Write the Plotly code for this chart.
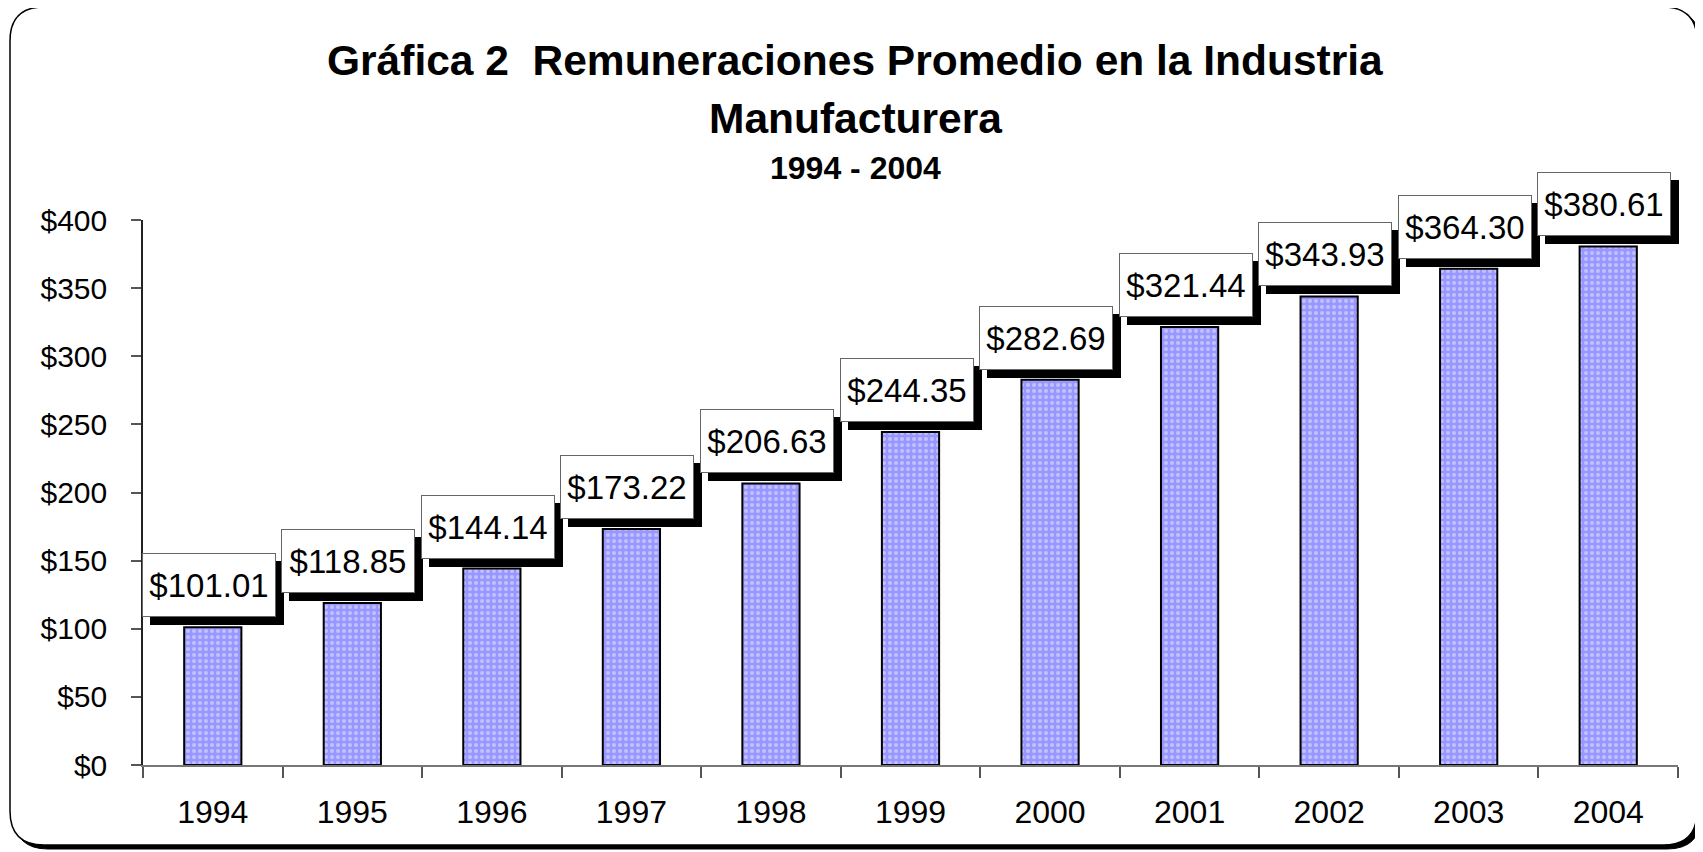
import plotly.graph_objects as go

years = ["1994", "1995", "1996", "1997", "1998", "1999", "2000", "2001", "2002", "2003", "2004"]
values = [101.01, 118.85, 144.14, 173.22, 206.63, 244.35, 282.69, 321.44, 343.93, 364.30, 380.61]
y_ticks = [0, 50, 100, 150, 200, 250, 300, 350, 400]
y_tick_labels = ["$0", "$50", "$100", "$150", "$200", "$250", "$300", "$350", "$400"]

title_line1 = "Gráfica 2\u00a0\u00a0Remuneraciones Promedio en la Industria"
title_line2 = "Manufacturera"
title_line3 = "1994 - 2004"

# page body has an 8px margin; work in page pixels and subtract it
OFF = 8
FW, FH = 1703 - OFF, 852 - OFF
L, R, T, B = 143 - OFF, 1678 - OFF, 220 - OFF, 765 - OFF
PW, PH = R - L, B - T


def px(x):
    return (x - OFF - L) / PW


def py(y):
    return (B - (y - OFF)) / PH


def rrect(x0, y0, x1, y1, r):
    pts = [
        f"M {px(x0 + r)},{py(y0)}",
        f"L {px(x1 - r)},{py(y0)}",
        f"Q {px(x1)},{py(y0)} {px(x1)},{py(y0 + r)}",
        f"L {px(x1)},{py(y1 - r)}",
        f"Q {px(x1)},{py(y1)} {px(x1 - r)},{py(y1)}",
        f"L {px(x0 + r)},{py(y1)}",
        f"Q {px(x0)},{py(y1)} {px(x0)},{py(y1 - r)}",
        f"L {px(x0)},{py(y0 + r)}",
        f"Q {px(x0)},{py(y0)} {px(x0 + r)},{py(y0)}",
        "Z",
    ]
    return " ".join(pts)


FONT = "Liberation Sans, Arial, sans-serif"
idx = list(range(len(years)))

fig = go.Figure()
fig.add_trace(go.Bar(
    x=idx, y=values, width=0.41,
    marker=dict(
        color="#9c9cff",
        line=dict(color="black", width=2),
        pattern=dict(shape=".", fgcolor="#ececff", bgcolor="#9797ff", size=6, solidity=0.35),
    ),
    hoverinfo="skip",
))

shapes = [
    dict(type="path", xref="paper", yref="paper", path=rrect(14, 11, 1701, 849, 34),
         fillcolor="black", line=dict(color="black", width=1), layer="below"),
    dict(type="path", xref="paper", yref="paper", path=rrect(10, 7, 1697, 845, 34),
         fillcolor="white", line=dict(color="black", width=1.5), layer="below"),
]

annotations = []
for i, v in zip(idx, values):
    # drop shadow box behind each label
    annotations.append(dict(
        x=i, y=v, xref="x", yref="y", text="\u00a0", showarrow=False,
        xanchor="center", yanchor="bottom", xshift=4, yshift=2,
        width=130, height=60, borderpad=1, borderwidth=1,
        bgcolor="black", bordercolor="black",
        font=dict(family=FONT, size=10, color="black"),
    ))
    annotations.append(dict(
        x=i, y=v, xref="x", yref="y", text=f"${v:.2f}", showarrow=False,
        xanchor="center", yanchor="bottom", xshift=-4, yshift=10,
        width=130, height=60, borderpad=1, borderwidth=1,
        bgcolor="white", bordercolor="#666666",
        font=dict(family=FONT, size=33, color="black"),
    ))

annotations += [
    dict(x=px(855), y=py(61), xref="paper", yref="paper", text=f"<b>{title_line1}</b>",
         showarrow=False, xanchor="center", yanchor="middle",
         font=dict(family=FONT, size=42.5, color="black")),
    dict(x=px(855), y=py(118), xref="paper", yref="paper", text=f"<b>{title_line2}</b>",
         showarrow=False, xanchor="center", yanchor="middle",
         font=dict(family=FONT, size=42.5, color="black")),
    dict(x=px(855), y=py(168), xref="paper", yref="paper", text=f"<b>{title_line3}</b>",
         showarrow=False, xanchor="center", yanchor="middle",
         font=dict(family=FONT, size=32, color="black")),
]

fig.update_layout(
    width=FW, height=FH,
    margin=dict(l=L, r=FW - R, t=T, b=FH - B, pad=0),
    paper_bgcolor="white", plot_bgcolor="rgba(0,0,0,0)",
    showlegend=False,
    shapes=shapes,
    annotations=annotations,
    font=dict(family=FONT, color="black"),
)
fig.update_xaxes(
    range=[-0.5, 10.5], tickvals=idx, ticktext=years,
    showline=True, linecolor="#777777", linewidth=1.5,
    ticks="", showgrid=False, zeroline=False,
    tickfont=dict(family=FONT, size=32, color="black"),
    ticklabelstandoff=18,
    minor=dict(tickvals=[i - 0.5 for i in idx] + [len(idx) - 0.5], ticks="outside",
               ticklen=11, tickcolor="#555555", tickwidth=1.5, showgrid=False),
)
fig.update_yaxes(
    range=[0, 400], tickvals=y_ticks, ticktext=y_tick_labels,
    showline=True, linecolor="#222222", linewidth=1.5,
    ticks="outside", ticklen=10, tickcolor="#555555", tickwidth=1.5,
    showgrid=False, zeroline=False,
    tickfont=dict(family=FONT, size=30, color="black"),
    ticklabelstandoff=18,
)

fig.write_html("out.html")
